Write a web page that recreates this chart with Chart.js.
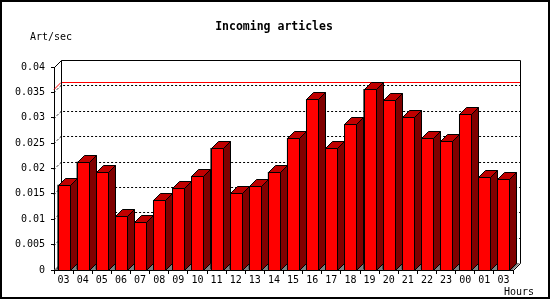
<!DOCTYPE html>
<html>
<head>
<meta charset="utf-8">
<script src="https://cdn.jsdelivr.net/npm/chart.js@4/dist/chart.umd.min.js"></script>
<style>
html,body{margin:0;padding:0;background:#fff;}
#wrap{width:550px;height:300px;}
</style>
</head>
<body>
<div id="wrap"><canvas id="c" width="550" height="300"></canvas></div>
<script>
// ---- data ----
const hours = ["03","04","05","06","07","08","09","10","11","12","13","14","15","16","17","18","19","20","21","22","23","00","01","03"];
const artPerSec = [0.0168,0.0213,0.0193,0.0106,0.0095,0.0138,0.0161,0.0185,0.0240,0.0151,0.0165,0.0193,0.0260,0.0336,0.0240,0.0287,0.0356,0.0335,0.0301,0.0261,0.0254,0.0307,0.0184,0.0180];
const yTickValues = [0,0.005,0.01,0.015,0.02,0.025,0.03,0.035,0.04];
const yTickLabels = ["0","0.005","0.01","0.015","0.02","0.025","0.03","0.035","0.04"];
const maxLine = 0.0356;
const titleText = "Incoming articles";
const yTitle = "Art/sec";
const xTitle = "Hours";

const DX = 7, DY = 7;
const FONT = "'DejaVu Sans Mono', monospace";

const threeD = {
  id: 'threeD',
  beforeDatasetsDraw(chart) {
    const ctx = chart.ctx, a = chart.chartArea, ys = chart.scales.y;
    const L = a.left, R = a.right, T = a.top, B = a.bottom;
    ctx.save();
    // floor
    ctx.beginPath();
    ctx.moveTo(L, B); ctx.lineTo(R, B); ctx.lineTo(R + DX, B - DY); ctx.lineTo(L + DX, B - DY); ctx.closePath();
    ctx.fillStyle = '#808080'; ctx.fill();
    // dotted grid lines on back plane
    ctx.strokeStyle = '#000'; ctx.lineWidth = 1;
    ctx.setLineDash([2, 2]);
    for (const v of yTickValues) {
      if (v <= 0 || v >= 0.04) continue;
      const y = Math.round(ys.getPixelForValue(v)) + 0.5;
      ctx.beginPath();
      ctx.moveTo(L, y); ctx.lineTo(L + DX, y - DY); ctx.lineTo(R + DX, y - DY);
      ctx.stroke();
    }
    ctx.setLineDash([]);
    // max line (red)
    const ym = Math.round(ys.getPixelForValue(maxLine)) + 0.5;
    ctx.strokeStyle = '#ff0000';
    ctx.beginPath();
    ctx.moveTo(L, ym); ctx.lineTo(L + DX, ym - DY); ctx.lineTo(R + DX, ym - DY);
    ctx.stroke();
    // back frame
    ctx.strokeStyle = '#000';
    const l = Math.round(L) + 0.5, r = Math.round(R) + 0.5, t = Math.round(T) + 0.5, b = Math.round(B) + 0.5;
    ctx.beginPath();
    ctx.moveTo(l, t); ctx.lineTo(l + DX, t - DY); ctx.lineTo(r + DX, t - DY); ctx.lineTo(r + DX, b - DY); ctx.lineTo(r, b);
    ctx.moveTo(l + DX, t - DY); ctx.lineTo(l + DX, b - DY);
    ctx.stroke();
    ctx.restore();
  },
  afterDatasetsDraw(chart) {
    const ctx = chart.ctx;
    const meta = chart.getDatasetMeta(0);
    ctx.save();
    ctx.lineWidth = 1; ctx.strokeStyle = '#000';
    for (const el of meta.data) {
      const left = Math.round(el.x - el.width / 2) + 0.5;
      const right = Math.round(el.x + el.width / 2) + 0.5;
      const top = Math.round(el.y) + 0.5;
      const base = Math.round(el.base) + 0.5;
      // side
      ctx.beginPath();
      ctx.moveTo(right, top); ctx.lineTo(right + DX, top - DY); ctx.lineTo(right + DX, base - DY); ctx.lineTo(right, base); ctx.closePath();
      ctx.fillStyle = '#800000'; ctx.fill(); ctx.stroke();
      // top
      ctx.beginPath();
      ctx.moveTo(left, top); ctx.lineTo(left + DX, top - DY); ctx.lineTo(right + DX, top - DY); ctx.lineTo(right, top); ctx.closePath();
      ctx.fillStyle = '#c00000'; ctx.fill(); ctx.stroke();
      // front
      ctx.beginPath();
      ctx.rect(left, top, right - left, base - top);
      ctx.fillStyle = '#ff0000'; ctx.fill(); ctx.stroke();
    }
    ctx.restore();
  },
  afterDraw(chart) {
    const ctx = chart.ctx;
    ctx.save();
    ctx.fillStyle = '#000';
    ctx.textBaseline = 'middle';
    ctx.font = "bold 11.5px " + FONT;
    ctx.textAlign = 'center';
    ctx.fillText(titleText, 274, 27);
    ctx.font = "10px " + FONT;
    ctx.textAlign = 'left';
    ctx.fillText(yTitle, 30, 37);
    ctx.fillText(xTitle, 504, 292);
    // outer frame
    ctx.strokeStyle = '#000'; ctx.lineWidth = 2;
    ctx.strokeRect(1, 1, 548, 297);
    ctx.restore();
  }
};

new Chart(document.getElementById('c'), {
  type: 'bar',
  data: {
    labels: hours,
    datasets: [{
      data: artPerSec,
      backgroundColor: '#ff0000',
      borderColor: '#000',
      borderWidth: 1,
      barThickness: 12
    }]
  },
  options: {
    responsive: false,
    devicePixelRatio: 1,
    animation: false,
    events: [],
    layout: { padding: { top: 67, right: 37, left: 0, bottom: 0 } },
    plugins: { legend: { display: false }, tooltip: { enabled: false }, title: { display: false } },
    scales: {
      x: {
        offset: true,
        grid: { display: true, drawOnChartArea: false, drawTicks: true, tickLength: 4, color: '#000', offset: true },
        border: { display: true, color: '#000', width: 1 },
        ticks: { color: '#000', font: { family: FONT, size: 10 }, padding: 0, maxRotation: 0, autoSkip: false },
        afterFit(s) { s.height = 30; s.paddingLeft = 0; s.paddingRight = 0; }
      },
      y: {
        min: 0, max: 0.04,
        grid: { display: true, drawOnChartArea: false, drawTicks: true, tickLength: 3, color: '#000' },
        border: { display: true, color: '#000', width: 1 },
        afterBuildTicks(s) { s.ticks = yTickValues.map(v => ({ value: v })); },
        ticks: {
          color: '#000', font: { family: FONT, size: 10 }, padding: 6,
          callback: (v, i) => yTickLabels[i]
        },
        afterFit(s) { s.width = 54; s.paddingTop = 0; s.paddingBottom = 0; }
      }
    }
  },
  plugins: [threeD]
});
</script>
</body>
</html>
